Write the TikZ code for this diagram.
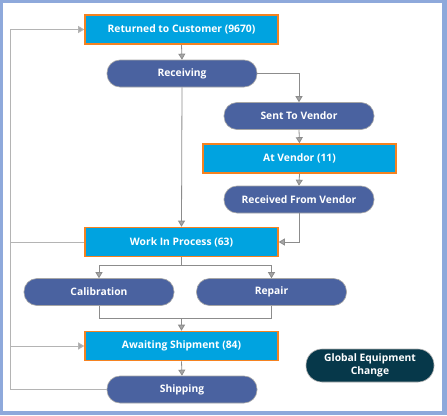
\documentclass[tikz,border=0pt]{standalone}
\usepackage{fontspec}
\setmainfont{Open Sans}
\usetikzlibrary{arrows.meta}
\definecolor{frameblue}{HTML}{8EA9DB}
\definecolor{boxblue}{HTML}{00A3E0}
\definecolor{boxorange}{HTML}{F58220}
\definecolor{pillblue}{HTML}{4A62A0}
\definecolor{darkteal}{HTML}{06384A}
\definecolor{lineg}{HTML}{8C8C8C}
\definecolor{lightg}{HTML}{B4B4B4}
\tikzset{
  x=1pt, y=-1pt,
  txt/.style={text=white, font=\fontsize{10.3}{12.5}\selectfont\bfseries, align=center, inner sep=0pt},
  statebox/.style={txt, rectangle, fill=boxblue, draw=boxorange, line width=1.6pt, minimum width=193pt, minimum height=29pt},
  pill/.style={txt, rectangle, rounded corners=13pt, fill=pillblue, draw=gray!70, line width=0.6pt, minimum width=150pt, minimum height=27pt},
  conn/.style={draw=lineg, line width=0.8pt},
  loopc/.style={draw=lightg, line width=1pt},
  tip/.style={-{Triangle[width=7pt,length=6pt,fill=gray!70]}}
}
\begin{document}
\begin{tikzpicture}
\fill[frameblue] (0,0) rectangle (447,415);
\fill[white] (3,3) rectangle (442,411);
\useasboundingbox (0,0) rectangle (447,415);

\node[statebox] (ret) at (181.5,29.5) {Returned to Customer (9670)};
\node[pill] (rec) at (182,73.5) {Receiving};
\node[pill] (stv) at (299,116) {Sent To Vendor};
\node[statebox] (atv) at (299.5,158.5) {At Vendor (11)};
\node[pill] (rfv) at (299,199.5) {Received From Vendor};
\node[statebox] (wip) at (181.5,242) {Work In Process (63)};
\node[pill] (cal) at (99,292) {Calibration};
\node[pill] (rep) at (271.5,292) {Repair};
\node[statebox] (aws) at (181.5,346) {Awaiting Shipment (84)};
\node[pill] (shp) at (182,389.5) {Shipping};
\node[txt, rectangle, rounded corners=16pt, fill=darkteal, draw=gray!60, line width=0.6pt, minimum width=128pt, minimum height=33pt] (gec) at (370,365.5) {Global Equipment\\Change};

\coordinate (lx1) at (10,389.5);
\coordinate (lx2) at (10,29.5);
\coordinate (lwip) at (10,242);
\coordinate (laws) at (10,346);
\coordinate (split) at (181.5,265);
\coordinate (merge) at (181.5,318);

% main flow
\draw[conn, tip] (ret.south) -- (rec.north);
\draw[conn, tip] (rec.east) -| (stv.north);
\draw[conn, tip] (stv.south) -- (atv.north);
\draw[conn, tip] (atv.south) -- (rfv.north);
\draw[conn, tip] (rfv.south) |- (wip.east);
\draw[conn, tip] (rec.south) -- (wip.north);
\draw[conn] (wip.south) -- (split);
\draw[conn, tip] (split) -| (cal.north);
\draw[conn, tip] (split) -| (rep.north);
\draw[conn] (cal.south) |- (merge);
\draw[conn] (rep.south) |- (merge);
\draw[conn, tip] (merge) -- (aws.north);
\draw[conn, tip] (aws.south) -- (shp.north);

% loop back
\draw[loopc] (shp.west) -- (lx1) -- (lx2);
\draw[loopc, tip] (lx2) -- (ret.west);
\draw[loopc] (wip.west) -- (lwip);
\draw[loopc, tip] (laws) -- (aws.west);
\end{tikzpicture}
\end{document}
